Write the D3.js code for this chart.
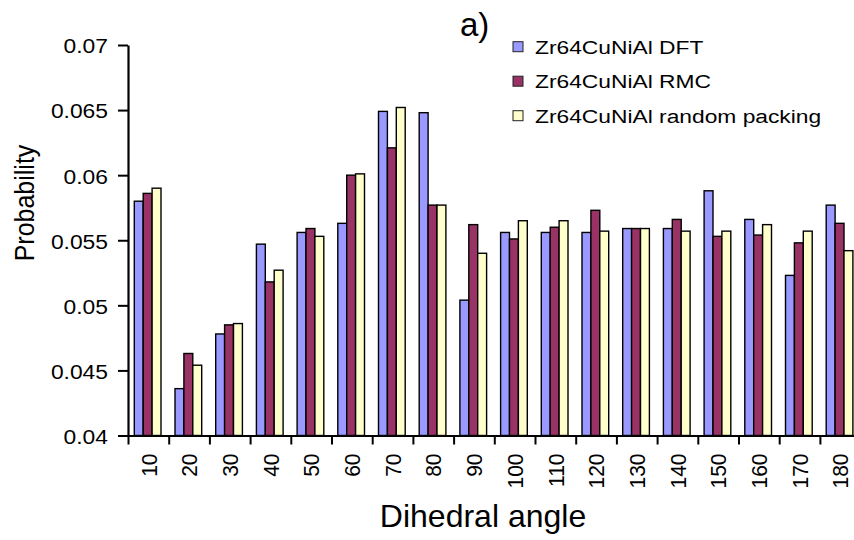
<!DOCTYPE html>
<html>
<head>
<meta charset="utf-8">
<script src="https://cdn.jsdelivr.net/npm/d3@7"></script>
<style>
  body { margin: 0; background: #fff; }
  svg { display: block; font-family: "Liberation Sans", Arial, sans-serif; }
</style>
</head>
<body>
<div id="chart"></div>
<script>
// data
var angles = ["10","20","30","40","50","60","70","80","90","100","110","120","130","140","150","160","170","180"];
var seriesNames = ["Zr64CuNiAl DFT", "Zr64CuNiAl RMC", "Zr64CuNiAl random packing"];
var dftValues  = [0.0580,0.0436,0.0478,0.0547,0.0556,0.0563,0.0649,0.0648,0.0504,0.0556,0.0556,0.0556,0.0559,0.0559,0.0588,0.0566,0.0523,0.0577];
var rmcValues  = [0.0586,0.0463,0.0485,0.0518,0.0559,0.0600,0.0621,0.0577,0.0562,0.0551,0.0560,0.0573,0.0559,0.0566,0.0553,0.0554,0.0548,0.0563];
var randValues = [0.0590,0.0454,0.0486,0.0527,0.0553,0.0601,0.0652,0.0577,0.0540,0.0565,0.0565,0.0557,0.0559,0.0557,0.0557,0.0562,0.0557,0.0542];
var yTicks = [0.04,0.045,0.05,0.055,0.06,0.065,0.07];
var colors = ["#9999FF", "#993366", "#FFFFCC"];

var width = 854, height = 540;
var plotLeft = 128, plotTop = 45, plotBottom = 435.5, band = 40.7;

var svg = d3.select("#chart")
  .append("svg")
    .attr("width", width)
    .attr("height", height);

// scales
var x = d3.scaleBand()
  .domain(angles)
  .range([plotLeft, plotLeft + band * angles.length]);
var xSub = d3.scaleBand()
  .domain(seriesNames)
  .range([6.3, 6.3 + 3 * 8.9]);
var xEdge = d3.scaleLinear()
  .domain([0, angles.length])
  .range([plotLeft, plotLeft + band * angles.length]);
var y = d3.scaleLinear()
  .domain([0.04, 0.07])
  .range([plotBottom, plotTop]);

var allValues = [dftValues, rmcValues, randValues];

// bars
seriesNames.forEach(function(name, i) {
  svg.append("g")
    .selectAll("rect")
    .data(allValues[i])
    .enter()
    .append("rect")
      .attr("x", function(d, j) { return x(angles[j]) + xSub(name); })
      .attr("y", function(d) { return y(d); })
      .attr("width", xSub.bandwidth())
      .attr("height", function(d) { return y(0.04) - y(d); })
      .style("fill", colors[i])
      .style("stroke", "#000")
      .style("stroke-width", 1.4);
});

// y axis
var yAxis = svg.append("g")
  .attr("transform", "translate(" + plotLeft + ",0)")
  .call(d3.axisLeft(y).tickValues(yTicks).tickSize(10).tickSizeOuter(0)
    .tickFormat(function(d) { return String(+d.toFixed(3)); }));
yAxis.select(".domain").attr("stroke-width", 2.2);
yAxis.selectAll(".tick line").attr("stroke-width", 2);
yAxis.selectAll("text")
  .attr("x", 0)
  .attr("dy", "0.35em")
  .attr("transform", "translate(-20,1) scale(1.17,1)")
  .style("font-size", "19.5px")
  .style("fill", "#000");

// x axis: ticks on the band edges
var xAxisTicks = svg.append("g")
  .attr("transform", "translate(0," + plotBottom + ")")
  .call(d3.axisBottom(xEdge).tickValues(d3.range(0, angles.length + 1)).tickSize(9).tickSizeOuter(0).tickFormat(""));
xAxisTicks.select(".domain").attr("stroke-width", 2.2);
xAxisTicks.selectAll(".tick line").attr("stroke-width", 2);

// x labels
var xAxisLabels = svg.append("g")
  .attr("transform", "translate(0," + plotBottom + ")")
  .call(d3.axisBottom(x).tickSize(0));
xAxisLabels.select(".domain").remove();
xAxisLabels.selectAll("text")
  .attr("x", 0)
  .attr("y", 0)
  .attr("dy", "0.36em")
  .attr("transform", "translate(0,18) scale(1.08,1) rotate(-90)")
  .style("text-anchor", "end")
  .style("font-size", "21px")
  .style("fill", "#000");

// axis titles
svg.append("text")
  .attr("transform", "translate(34,203) scale(1.08,1) rotate(-90)")
  .attr("text-anchor", "middle")
  .style("font-size", "25px")
  .text("Probability");

svg.append("text")
  .attr("x", 483)
  .attr("y", 527)
  .attr("text-anchor", "middle")
  .style("font-size", "32px")
  .text("Dihedral angle");

svg.append("text")
  .attr("x", 460)
  .attr("y", 36)
  .style("font-size", "33px")
  .text("a)");

// legend
var legend = svg.append("g");
seriesNames.forEach(function(name, i) {
  var cy = 46.7 + i * 34.5;
  legend.append("rect")
    .attr("x", 513)
    .attr("y", cy - 5)
    .attr("width", 10)
    .attr("height", 10)
    .style("fill", colors[i])
    .style("stroke", "#222")
    .style("stroke-width", 1);
  legend.append("text")
    .attr("transform", "translate(535," + (cy + 7) + ") scale(1.2,1)")
    .style("font-size", "19px")
    .text(name);
});
</script>
</body>
</html>
